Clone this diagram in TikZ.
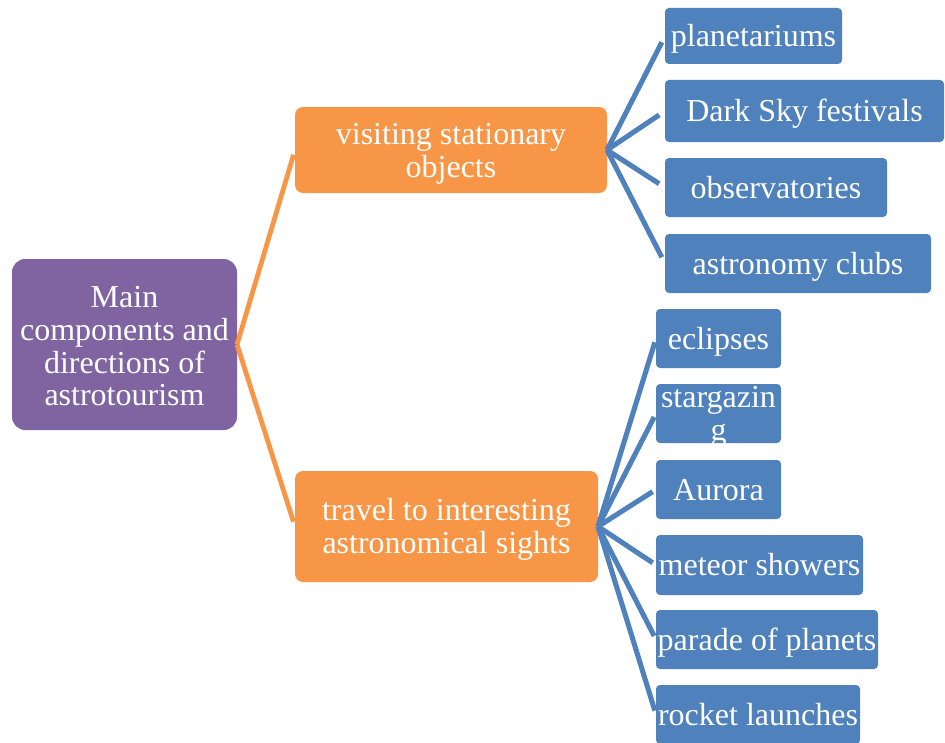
\documentclass[tikz,border=0pt]{standalone}
\usepackage{fontspec}
\setmainfont{Liberation Serif}
\definecolor{cpurple}{HTML}{8064A2}
\definecolor{corange}{HTML}{F79646}
\definecolor{cblue}{HTML}{4F81BD}
\newcommand\mytopstrut{\rule{0pt}{21.4pt}}
\newcommand\mybotstrut{\rule[-5.2pt]{0pt}{0pt}}
\begin{document}
\begin{tikzpicture}[x=0.75pt,y=-0.75pt,
  sz/.style 2 args={minimum width=#1*0.75pt, minimum height=#2*0.75pt},
  basebox/.style={inner sep=0pt, outer sep=0pt, align=center, text=white,
    font=\fontsize{24}{24.5}\selectfont},
  rootbox/.style={basebox, fill=cpurple, rounded corners=10pt},
  midbox/.style={basebox, fill=corange, rounded corners=6pt},
  leafbox/.style={basebox, fill=cblue, rounded corners=3pt},
  oline/.style={draw=corange, line width=3.6pt, shorten >=3.75pt},
  bline/.style={draw=cblue, line width=3.8pt},
]
\useasboundingbox (0,0) rectangle (945,742);
\node[rootbox, sz={225}{171}] (root) at (124.5,344.5) {\rule{0pt}{18.6pt}Main\\components and\\directions of\\astrotourism};
\node[midbox, sz={312}{86}] (v1) at (451,150) {\mytopstrut visiting stationary\\objects\mybotstrut};
\node[midbox, sz={303}{111}] (v2) at (446.5,526.5) {\mytopstrut travel to interesting\\astronomical sights\mybotstrut};

\node[leafbox, sz={177}{56}] (b1) at (753.5,36) {\mytopstrut planetariums\mybotstrut};
\node[leafbox, sz={279}{62}] (b2) at (804.5,111) {\mytopstrut Dark Sky festivals\mybotstrut};
\node[leafbox, sz={222}{59}] (b3) at (776,187.5) {\mytopstrut observatories\mybotstrut};
\node[leafbox, sz={266}{59}] (b4) at (798,263.5) {\mytopstrut astronomy clubs\mybotstrut};

\node[leafbox, sz={125}{59}] (c1) at (718.5,338.5) {\mytopstrut eclipses\mybotstrut};
\begin{scope}
\clip[rounded corners=3pt] (656,384) rectangle (781,443);
\node[leafbox, sz={125}{59}] (c2) at (718.5,413.5) {\mytopstrut stargazin\\g\mybotstrut};
\end{scope}
\node[leafbox, sz={125}{59}] (c3) at (718.5,489.5) {\mytopstrut Aurora\mybotstrut};
\node[leafbox, sz={207}{60}] (c4) at (759.5,565) {\mytopstrut meteor showers\mybotstrut};
\node[leafbox, sz={222}{59}] (c5) at (767,639.5) {\mytopstrut parade of planets\mybotstrut};
\node[leafbox, sz={204}{59}] (c6) at (758,714.5) {\mytopstrut rocket launches\mybotstrut};

\draw[oline] (root.east) -- (v1.west);
\draw[oline] (root.east) -- (v2.west);
\foreach \n in {b1,b2,b3,b4}{\draw[bline, shorten >=5.25pt] (v1.east) -- (\n.west);}
\foreach \n in {c1,c2,c3,c4,c5,c6}{\draw[bline, shorten >=3pt] (v2.east) -- (\n.west);}
\end{tikzpicture}
\end{document}
